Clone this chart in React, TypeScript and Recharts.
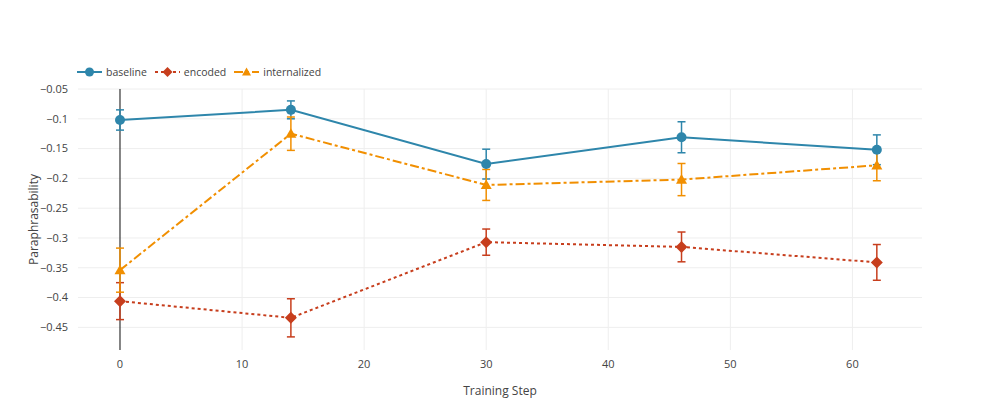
import React from 'react';
import { ComposedChart, Line, XAxis, YAxis, CartesianGrid, ErrorBar, ReferenceLine } from 'recharts';

const steps = [0, 14, 30, 46, 62];
const baseline = [-0.102, -0.085, -0.176, -0.131, -0.152];
const baselineErr = [0.017, 0.015, 0.025, 0.026, 0.025];
const encoded = [-0.406, -0.434, -0.307, -0.315, -0.341];
const encodedErr = [0.031, 0.032, 0.022, 0.025, 0.030];
const internalized = [-0.354, -0.125, -0.211, -0.202, -0.178];
const internalizedErr = [0.037, 0.028, 0.026, 0.027, 0.026];
const xTicks = [0, 10, 20, 30, 40, 50, 60];
const yTicks = [-0.45, -0.4, -0.35, -0.3, -0.25, -0.2, -0.15, -0.1, -0.05];

const COLORS = { baseline: '#2E86AB', encoded: '#C73E1D', internalized: '#F18F01' };
const FONT = '"Open Sans", "DejaVu Sans", sans-serif';

const data = steps.map((s, i) => ({
  step: s,
  baseline: baseline[i],
  baselineErr: baselineErr[i],
  encoded: encoded[i],
  encodedErr: encodedErr[i],
  internalized: internalized[i],
  internalizedErr: internalizedErr[i],
}));

const fmtY = (v: number) => String(Number(v.toFixed(2))).replace('-', '\u2212');

const CircleDot = (props: any) => {
  const { cx, cy, index } = props;
  if (cx == null || cy == null) return <g key={index} />;
  return <circle key={index} cx={cx} cy={cy} r={5} fill={COLORS.baseline} />;
};
const DiamondDot = (props: any) => {
  const { cx, cy, index } = props;
  if (cx == null || cy == null) return <g key={index} />;
  const r = 6;
  return <polygon key={index} points={`${cx},${cy - r} ${cx + r},${cy} ${cx},${cy + r} ${cx - r},${cy}`} fill={COLORS.encoded} />;
};
const TriangleDot = (props: any) => {
  const { cx, cy, index } = props;
  if (cx == null || cy == null) return <g key={index} />;
  const r = 5.5;
  return <polygon key={index} points={`${cx},${cy - r} ${cx + r},${cy + r * 0.75} ${cx - r},${cy + r * 0.75}`} fill={COLORS.internalized} />;
};

const legendItems = [
  { name: 'baseline', color: COLORS.baseline, dash: '', shape: 'circle' },
  { name: 'encoded', color: COLORS.encoded, dash: '3 3', shape: 'diamond' },
  { name: 'internalized', color: COLORS.internalized, dash: '9 3 3 3', shape: 'triangle' },
];

const LegendBox = () => (
  <div style={{ position: 'absolute', left: 77, top: 65, display: 'flex', alignItems: 'center', fontFamily: FONT, fontSize: 10.5, color: '#444', lineHeight: '14px' }}>
    {legendItems.map((it) => (
      <div key={it.name} style={{ display: 'flex', alignItems: 'center', marginRight: 8 }}>
        <svg width={25} height={12} style={{ marginRight: 4 }}>
          <line x1={0} y1={6} x2={25} y2={6} stroke={it.color} strokeWidth={2} strokeDasharray={it.dash} />
          {it.shape === 'circle' && <circle cx={12.5} cy={6} r={4.5} fill={it.color} />}
          {it.shape === 'diamond' && <polygon points="12.5,1 17.5,6 12.5,11 7.5,6" fill={it.color} />}
          {it.shape === 'triangle' && <polygon points="12.5,1.5 17,9.5 8,9.5" fill={it.color} />}
        </svg>
        <span>{it.name}</span>
      </div>
    ))}
  </div>
);

const YTitle = (props: any) => {
  const vb = props.viewBox || {};
  const cy = (vb.y ?? 0) + (vb.height ?? 0) / 2;
  return (
    <text x={33} y={cy} transform={`rotate(-90, 33, ${cy})`} textAnchor="middle" dominantBaseline="central"
      fontFamily={FONT} fontSize={12} fill="#444">Paraphrasability</text>
  );
};

const applyScale = (s: any, v: number): number => {
  if (!s) return NaN;
  if (typeof s === 'function') return s(v);
  if (typeof s.map === 'function') return s.map(v);
  if (typeof s.scale === 'function') return s.scale(v);
  return NaN;
};
const hGen = (p: any) => yTicks.map((t) => applyScale(p?.yAxis?.scale, t)).filter((v) => Number.isFinite(v));
const vGen = (p: any) => xTicks.filter((t) => t !== 0).map((t) => applyScale(p?.xAxis?.scale, t)).filter((v) => Number.isFinite(v));

export default function App() {
  return (
    <div style={{ position: 'absolute', left: 0, top: 0, background: '#fff', width: 996, height: 415 }}>
      <ComposedChart width={996} height={415} data={data} margin={{ top: 89, right: 74, bottom: 0, left: 0 }}>
        <CartesianGrid stroke="#eeeeee" strokeWidth={1} horizontalCoordinatesGenerator={hGen} verticalCoordinatesGenerator={vGen} />
        <XAxis
          dataKey="step"
          type="number"
          domain={[-3.44, 65.7]}
          ticks={xTicks}
          axisLine={false}
          tickLine={false}
          height={65}
          tickMargin={4}
          tick={{ fontFamily: FONT, fontSize: 11, fill: '#444' }}
          label={{ value: 'Training Step', position: 'insideBottom', offset: 20, fontFamily: FONT, fontSize: 12, fill: '#444' }}
        />
        <YAxis
          type="number"
          domain={[-0.488, -0.05]}
          ticks={yTicks}
          allowDataOverflow
          axisLine={false}
          tickLine={false}
          width={78}
          tickMargin={4}
          tickFormatter={fmtY}
          tick={{ fontFamily: FONT, fontSize: 11, fill: '#444' }}
          label={<YTitle />}
        />
        <ReferenceLine x={0} stroke="#333" strokeWidth={1.2} />
        <Line dataKey="baseline" name="baseline" stroke={COLORS.baseline} strokeWidth={2} dot={CircleDot} activeDot={false} isAnimationActive={false}>
          <ErrorBar dataKey="baselineErr" direction="y" width={4} stroke={COLORS.baseline} strokeWidth={1.5} />
        </Line>
        <Line dataKey="encoded" name="encoded" stroke={COLORS.encoded} strokeWidth={2} strokeDasharray="3 3" dot={DiamondDot} activeDot={false} isAnimationActive={false}>
          <ErrorBar dataKey="encodedErr" direction="y" width={4} stroke={COLORS.encoded} strokeWidth={1.5} />
        </Line>
        <Line dataKey="internalized" name="internalized" stroke={COLORS.internalized} strokeWidth={2} strokeDasharray="9 3 3 3" dot={TriangleDot} activeDot={false} isAnimationActive={false}>
          <ErrorBar dataKey="internalizedErr" direction="y" width={4} stroke={COLORS.internalized} strokeWidth={1.5} />
        </Line>
      </ComposedChart>
      <LegendBox />
    </div>
  );
}
